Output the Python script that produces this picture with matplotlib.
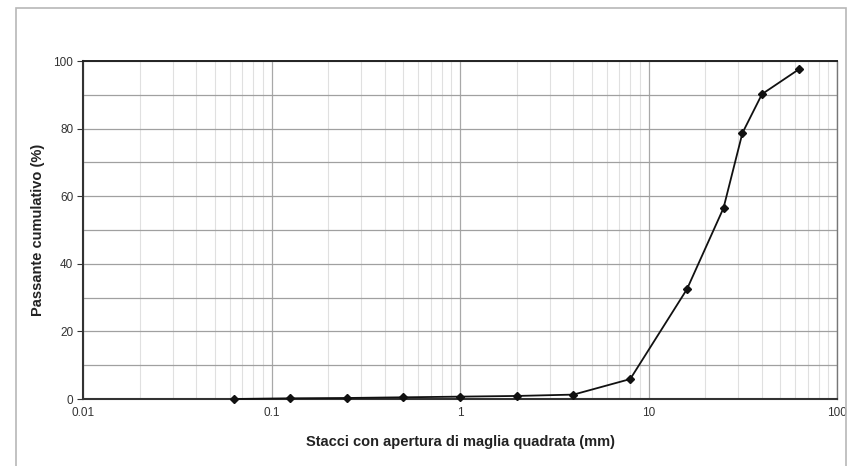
import matplotlib
matplotlib.use("Agg")
import matplotlib.pyplot as plt
from matplotlib.ticker import FixedLocator, LogLocator, NullFormatter, FixedFormatter
from matplotlib.patches import Rectangle

plt.rcParams['font.family'] = ['Liberation Sans', 'DejaVu Sans']

sieve_mm = [0.063, 0.125, 0.25, 0.5, 1, 2, 4, 8, 16, 25, 31.5, 40, 63]
passing = [0.0, 0.2, 0.3, 0.5, 0.7, 0.9, 1.3, 5.9, 32.5, 56.5, 78.7, 90.2, 97.6]
x_ticks = [0.01, 0.1, 1, 10, 100]
x_labels = ["0.01", "0.1", "1", "10", "100"]
y_ticks = [0, 20, 40, 60, 80, 100]

fig = plt.figure(figsize=(8.5, 4.66), dpi=100)
fig.patches.append(Rectangle((16/850, -0.01), (846-16)/850, 1 - 8/466 + 0.01,
                             transform=fig.transFigure, fill=False,
                             edgecolor='#b8b8b8', linewidth=1.2))
ax = fig.add_axes([83/850, 1-399/466, (837-83)/850, (399-61)/466])

ax.set_xscale('log')
ax.set_xlim(0.01, 100)
ax.set_ylim(0, 100)

ax.xaxis.set_major_locator(FixedLocator(x_ticks))
ax.xaxis.set_major_formatter(FixedFormatter(x_labels))
ax.xaxis.set_minor_locator(LogLocator(base=10, subs=range(2, 10)))
ax.xaxis.set_minor_formatter(NullFormatter())
ax.yaxis.set_major_locator(FixedLocator(y_ticks))
ax.yaxis.set_minor_locator(FixedLocator([10, 30, 50, 70, 90]))

ax.grid(True, which='major', axis='x', color='#a8a8a8', linewidth=0.9)
ax.grid(True, which='minor', axis='x', color='#e0e0e0', linewidth=0.8)
ax.grid(True, which='both', axis='y', color='#a0a0a0', linewidth=0.9)
ax.set_axisbelow(True)

ax.tick_params(axis='x', which='both', length=0, labelsize=8.5, pad=6, colors='#333333')
ax.tick_params(axis='y', which='major', length=4, labelsize=8.5, pad=3, colors='#333333')
ax.tick_params(axis='y', which='minor', length=0)

for s in ['left', 'bottom']:
    ax.spines[s].set_color('#333333')
    ax.spines[s].set_linewidth(1.5)
ax.spines['top'].set_color('#222222')
ax.spines['top'].set_linewidth(1.4)
ax.spines['right'].set_color('#777777')
ax.spines['right'].set_linewidth(1.0)

ax.plot(sieve_mm, passing, color='#111111', linewidth=1.3, marker='D',
        markersize=4.5, markerfacecolor='#111111', markeredgecolor='#111111',
        clip_on=False, zorder=5)

ax.set_xlabel("Stacci con apertura di maglia quadrata (mm)", fontsize=10.5,
              fontweight='bold', color='#222222', labelpad=11)
ax.set_ylabel("Passante cumulativo (%)", fontsize=10.5, fontweight='bold',
              color='#222222', labelpad=6)

fig.savefig("out.png", dpi=100)
